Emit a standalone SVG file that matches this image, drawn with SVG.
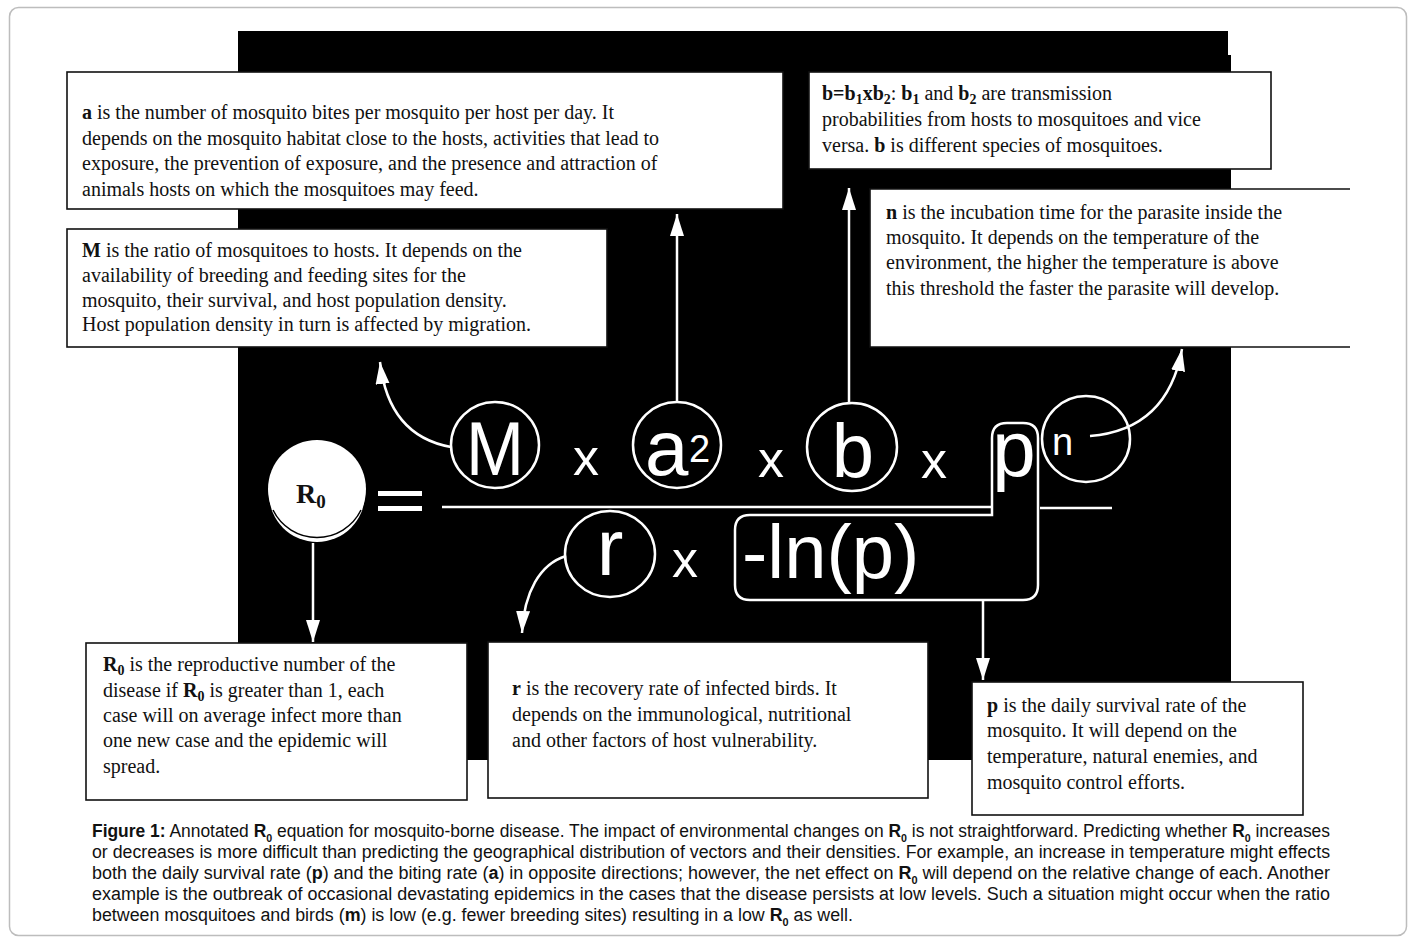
<svg xmlns="http://www.w3.org/2000/svg" width="1413" height="941" viewBox="0 0 1413 941">
<style>
.box{fill:#fff;stroke:#111;stroke-width:1.6}
.t{font-family:"Liberation Serif","Times New Roman",serif;font-size:20px;fill:#111}
.b{font-weight:bold}
.eq{font-family:"Liberation Sans",Arial,sans-serif;fill:#fff}
.ring{fill:none;stroke:#fff;stroke-width:2.5}
.conn{fill:none;stroke:#fff;stroke-width:2.5}
.cap{font-family:"Liberation Sans Narrow","Liberation Sans",Arial,sans-serif;font-size:18px;fill:#111}
</style>
<defs>
<marker id="ah" markerUnits="userSpaceOnUse" markerWidth="24" markerHeight="16" refX="22" refY="7" orient="auto">
<path d="M0,0 L22,7 L0,14 Z" fill="#fff"/>
</marker>
</defs>
<rect x="9.5" y="7.5" width="1397" height="928" rx="9" fill="#fff" stroke="#bdbdbd" stroke-width="1.5"/>
<path d="M238,31 H1228 V55 H1231 V760 H238 Z" fill="#000"/>

<g id="connectors">
<path class="conn" d="M451,447 C412,440 386,414 380,362" marker-end="url(#ah)"/>
<line class="conn" x1="677" y1="401" x2="677" y2="214" marker-end="url(#ah)"/>
<line class="conn" x1="849" y1="403" x2="849" y2="188" marker-end="url(#ah)"/>
<path class="conn" d="M1090,436 C1140,432 1172,405 1182,349" marker-end="url(#ah)"/>
<line class="conn" x1="313" y1="543" x2="313" y2="642" marker-end="url(#ah)"/>
<path class="conn" d="M566,556 C540,564 524,592 522,633" marker-end="url(#ah)"/>
<line class="conn" x1="983" y1="600" x2="983" y2="680" marker-end="url(#ah)"/>
</g>

<g id="equation">
<g id="R0">
<circle cx="317" cy="494" r="48" fill="#fff"/>
<circle cx="317" cy="489" r="49" fill="#fff"/>
<path d="M273,510 A49,49 0 0 0 361,510" fill="none" stroke="#000" stroke-width="1.5"/>
<text class="t b" x="296" y="503" style="font-size:28px">R<tspan dy="5" style="font-size:19px">0</tspan></text>
</g>
<rect x="378" y="491" width="44" height="5" fill="#fff"/>
<rect x="378" y="506" width="44" height="5" fill="#fff"/>
<line x1="442" y1="507" x2="992" y2="507" stroke="#fff" stroke-width="2.5"/>
<line x1="1040" y1="508" x2="1112" y2="508" stroke="#fff" stroke-width="2.5"/>
<g id="M">
<ellipse class="ring" cx="495" cy="445" rx="44" ry="43"/>
<text class="eq" x="495" y="475" text-anchor="middle" style="font-size:76px" textLength="58" lengthAdjust="spacingAndGlyphs">M</text>
</g>
<text class="eq" x="586" y="475" text-anchor="middle" style="font-size:52px">x</text>
<g id="a">
<ellipse class="ring" cx="677" cy="445" rx="44" ry="43"/>
<text class="eq" x="645" y="475" style="font-size:78px">a</text>
<text class="eq" x="689" y="462" style="font-size:38px">2</text>
</g>
<text class="eq" x="771" y="477" text-anchor="middle" style="font-size:52px">x</text>
<g id="b">
<ellipse class="ring" cx="852" cy="447" rx="45" ry="44"/>
<text class="eq" x="853" y="477" text-anchor="middle" style="font-size:76px">b</text>
</g>
<text class="eq" x="934" y="478" text-anchor="middle" style="font-size:52px">x</text>
<g id="p">
<path class="ring" d="M735,530 Q735,515 750,515 L992,515 L992,438 Q992,423 1007,423 L1023,423 Q1038,423 1038,438 L1038,585 Q1038,600 1023,600 L750,600 Q735,600 735,585 Z"/>
<text class="eq" x="1014" y="476" text-anchor="middle" style="font-size:78px">p</text>
<text class="eq" x="742" y="578" style="font-size:76px">-ln(p)</text>
</g>
<g id="n">
<ellipse class="ring" cx="1086" cy="439" rx="44" ry="43"/>
<text class="eq" x="1052" y="455" style="font-size:38px">n</text>
</g>
<g id="r">
<ellipse class="ring" cx="610" cy="554" rx="45" ry="43"/>
<text class="eq" x="610" y="575" text-anchor="middle" style="font-size:80px">r</text>
</g>
<text class="eq" x="685" y="577" text-anchor="middle" style="font-size:52px">x</text>
</g>

<g id="box-a">
<rect class="box" x="67" y="72" width="716" height="137"/>
<text class="t" x="82" y="119"><tspan class="b">a</tspan> is the number of mosquito bites per mosquito per host per day. It</text>
<text class="t" x="82" y="145">depends on the mosquito habitat close to the hosts, activities that lead to</text>
<text class="t" x="82" y="170">exposure, the prevention of exposure, and the presence and attraction of</text>
<text class="t" x="82" y="196">animals hosts on which the mosquitoes may feed.</text>
</g>
<g id="box-M">
<rect class="box" x="67" y="229" width="540" height="118"/>
<text class="t" x="82" y="257"><tspan class="b">M</tspan> is the ratio of mosquitoes to hosts. It depends on the</text>
<text class="t" x="82" y="282">availability of breeding and feeding sites for the</text>
<text class="t" x="82" y="307">mosquito, their survival, and host population density.</text>
<text class="t" x="82" y="331">Host population density in turn is affected by migration.</text>
</g>
<g id="box-b">
<rect class="box" x="809" y="72" width="462" height="97"/>
<text class="t" x="822" y="100"><tspan class="b">b=b<tspan dy="4" style="font-size:14px">1</tspan><tspan dy="-4">xb</tspan><tspan dy="4" style="font-size:14px">2</tspan></tspan><tspan dy="-4">: </tspan><tspan class="b">b<tspan dy="4" style="font-size:14px">1</tspan></tspan><tspan dy="-4"> and </tspan><tspan class="b">b<tspan dy="4" style="font-size:14px">2</tspan></tspan><tspan dy="-4"> are transmission</tspan></text>
<text class="t" x="822" y="126">probabilities from hosts to mosquitoes and vice</text>
<text class="t" x="822" y="152">versa. <tspan class="b">b</tspan> is different species of mosquitoes.</text>
</g>
<g id="box-n">
<rect x="870" y="189" width="480" height="158" fill="#fff"/>
<path d="M1350,189 H870 V347 H1350" fill="none" stroke="#111" stroke-width="1.6"/>
<text class="t" x="886" y="219"><tspan class="b">n</tspan> is the incubation time for the parasite inside the</text>
<text class="t" x="886" y="244">mosquito. It depends on the temperature of the</text>
<text class="t" x="886" y="269">environment, the higher the temperature is above</text>
<text class="t" x="886" y="295">this threshold the faster the parasite will develop.</text>
</g>
<g id="box-R0">
<rect class="box" x="86" y="643" width="381" height="157"/>
<text class="t" x="103" y="671"><tspan class="b">R<tspan dy="4" style="font-size:14px">0</tspan></tspan><tspan dy="-4"> is the reproductive number of the</tspan></text>
<text class="t" x="103" y="697">disease if <tspan class="b">R<tspan dy="4" style="font-size:14px">0</tspan></tspan><tspan dy="-4"> is greater than 1, each</tspan></text>
<text class="t" x="103" y="722">case will on average infect more than</text>
<text class="t" x="103" y="747">one new case and the epidemic will</text>
<text class="t" x="103" y="773">spread.</text>
</g>
<g id="box-r">
<rect class="box" x="488" y="642" width="440" height="156"/>
<text class="t" x="512" y="695"><tspan class="b">r</tspan> is the recovery rate of infected birds. It</text>
<text class="t" x="512" y="721">depends on the immunological, nutritional</text>
<text class="t" x="512" y="747">and other factors of host vulnerability.</text>
</g>
<g id="box-p">
<rect class="box" x="972" y="682" width="331" height="133"/>
<text class="t" x="987" y="712"><tspan class="b">p</tspan> is the daily survival rate of the</text>
<text class="t" x="987" y="737">mosquito. It will depend on the</text>
<text class="t" x="987" y="763">temperature,  natural enemies, and</text>
<text class="t" x="987" y="789">mosquito control efforts.</text>
</g>

<g id="caption">
<text class="cap" x="92" y="837" textLength="1238" lengthAdjust="spacingAndGlyphs"><tspan class="b">Figure 1:</tspan> Annotated <tspan class="b">R</tspan><tspan class="b" dy="5" style="font-size:11px">0</tspan><tspan dy="-5"> equation for mosquito-borne disease. The impact of environmental changes on </tspan><tspan class="b">R</tspan><tspan class="b" dy="5" style="font-size:11px">0</tspan><tspan dy="-5"> is not straightforward. Predicting whether </tspan><tspan class="b">R</tspan><tspan class="b" dy="5" style="font-size:11px">0</tspan><tspan dy="-5"> increases</tspan></text>
<text class="cap" x="92" y="858" textLength="1238" lengthAdjust="spacingAndGlyphs">or decreases is more difficult than predicting the geographical distribution of vectors and their densities. For example, an increase in temperature might effects</text>
<text class="cap" x="92" y="879" textLength="1238" lengthAdjust="spacingAndGlyphs">both the daily survival rate (<tspan class="b">p</tspan>) and the biting rate (<tspan class="b">a</tspan>) in opposite directions; however, the net effect on <tspan class="b">R</tspan><tspan class="b" dy="5" style="font-size:11px">0</tspan><tspan dy="-5"> will depend on the relative change of each. Another</tspan></text>
<text class="cap" x="92" y="900" textLength="1238" lengthAdjust="spacingAndGlyphs">example is the outbreak of occasional devastating epidemics in the cases that the disease persists at low levels. Such a situation might occur when the ratio</text>
<text class="cap" x="92" y="921" textLength="761" lengthAdjust="spacingAndGlyphs">between mosquitoes and birds (<tspan class="b">m</tspan>) is low (e.g. fewer breeding sites) resulting in a low <tspan class="b">R</tspan><tspan class="b" dy="5" style="font-size:11px">0</tspan><tspan dy="-5"> as well.</tspan></text>
</g>
</svg>
